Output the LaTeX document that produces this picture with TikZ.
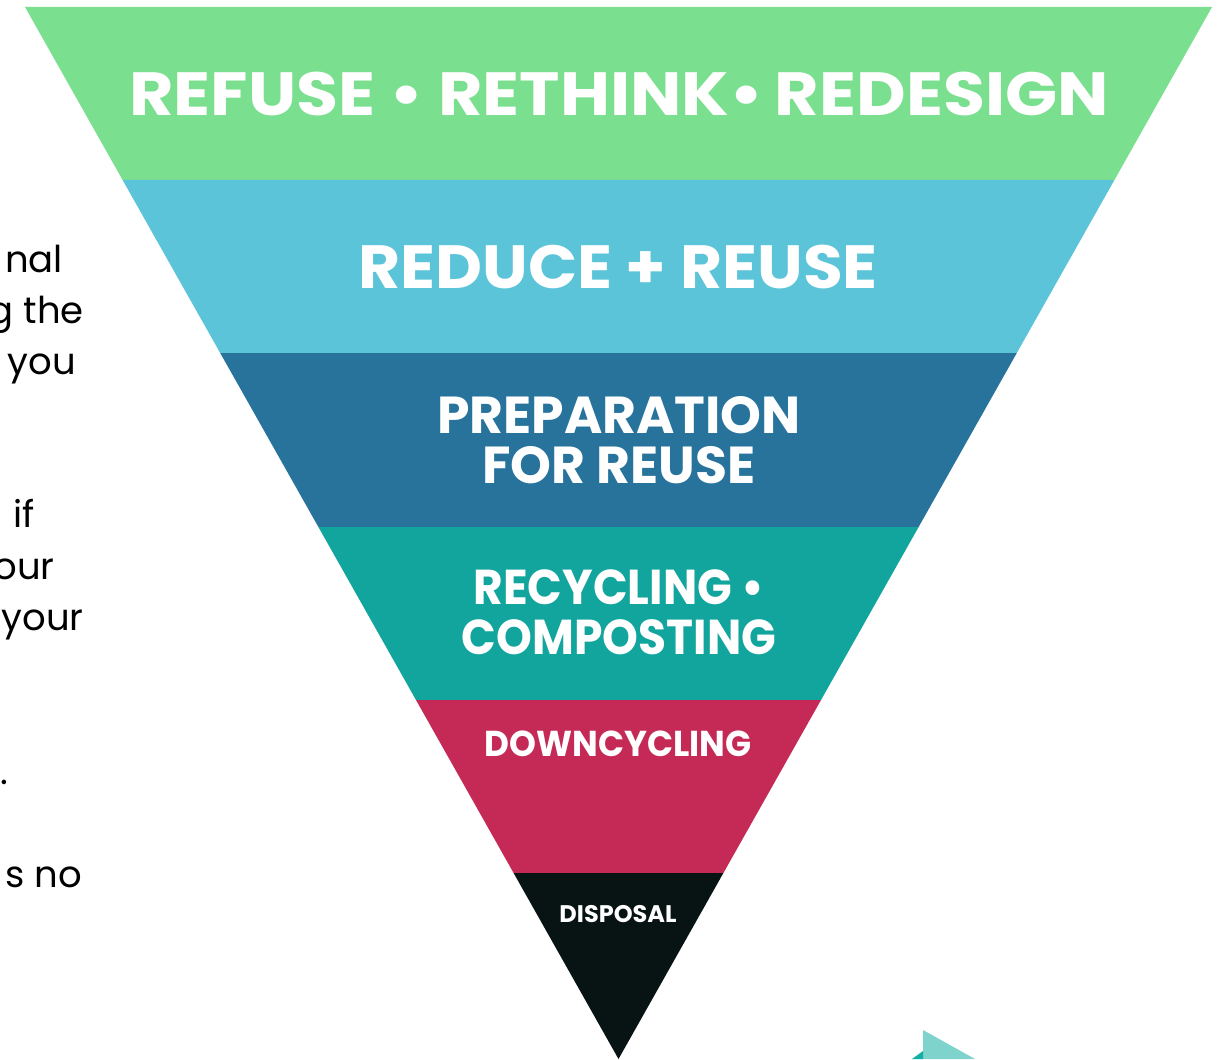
\documentclass[tikz,border=0pt]{standalone}
\usepackage{graphicx}
\usepackage{fontspec}
\setmainfont{Poppins}
\definecolor{refgreen}{HTML}{7ADF8E}
\definecolor{redblue}{HTML}{5BC4D8}
\definecolor{prepblue}{HTML}{27739C}
\definecolor{recteal}{HTML}{11A59D}
\definecolor{downred}{HTML}{C42A55}
\definecolor{dispblack}{HTML}{081414}
\definecolor{arrowlight}{HTML}{7ED3CC}
\definecolor{arrowdark}{HTML}{12AFA6}
\tikzset{
  tier/.style={text=white, font=\bfseries, align=center, inner sep=0pt},
  sidetext/.style={anchor=base east, inner sep=0pt, font=\fontsize{37}{44}\selectfont}
}
\begin{document}
\begin{tikzpicture}[x=1pt, y=-1pt]
    \useasboundingbox[fill=white] (0,0) rectangle (1222,1059);

    % Cut-off text on the left
    \node[sidetext] (t1) at (63,272) {nal};
    \node[sidetext] (t2) at (84,323) {g the};
    \node[sidetext] (t3) at (76,374) {you};
    \node[sidetext] (t4) at (35,527) {if};
    \node[sidetext] (t5) at (55,579) {our};
    \node[sidetext] (t6) at (84,630) {your};
    \node[sidetext] (t7) at (8,784) {.};
    \node[sidetext] (t8) at (82,887) {s no};

    % Edges of the bands
    \coordinate (L0) at (25,7);    \coordinate (R0) at (1212,7);
    \coordinate (L1) at (122.6,180); \coordinate (R1) at (1114.4,180);
    \coordinate (L2) at (220.2,353); \coordinate (R2) at (1016.8,353);
    \coordinate (L3) at (318.4,527); \coordinate (R3) at (918.6,527);
    \coordinate (L4) at (416,700);   \coordinate (R4) at (821,700);
    \coordinate (L5) at (513.6,873); \coordinate (R5) at (723.4,873);
    \coordinate (apex) at (618.5,1059);

    % Bands
    \fill[refgreen] (L0) -- (R0) -- (R1) -- (L1) -- cycle;
    \fill[redblue] (L1) -- (R1) -- (R2) -- (L2) -- cycle;
    \fill[prepblue] (L2) -- (R2) -- (R3) -- (L3) -- cycle;
    \fill[recteal] (L3) -- (R3) -- (R4) -- (L4) -- cycle;
    \fill[downred] (L4) -- (R4) -- (R5) -- (L5) -- cycle;
    \fill[dispblack] (L5) -- (R5) -- (apex) -- cycle;

    % Labels
    \node[tier, font=\bfseries\fontsize{61}{70}\selectfont] (refuse) at (619,94) {\scalebox{1.12}[1]{REFUSE • RETHINK•\,REDESIGN}};
    \node[tier, font=\bfseries\fontsize{61}{70}\selectfont] (reduce) at (618,267) {\scalebox{1.06}[1]{REDUCE + REUSE}};
    \node[tier, font=\bfseries\fontsize{52}{50}\selectfont] (prep) at (619,440) {PREPARATION\\FOR REUSE};
    \node[tier, font=\bfseries\fontsize{49}{50}\selectfont] (recyc) at (619,612) {\scalebox{0.93}[1]{RECYCLING •}\\\scalebox{0.93}[1]{COMPOSTING}};
    \node[tier, font=\bfseries\fontsize{36}{44}\selectfont] (down) at (618,744) {\scalebox{0.95}[1]{DOWNCYCLING}};
    \node[tier, font=\bfseries\fontsize{24}{30}\selectfont] (disp) at (618,914) {DISPOSAL};

    % Arrow corner at the bottom
    \fill[arrowlight] (923,1030) -- (975,1059) -- (923,1059) -- cycle;
    \fill[arrowdark] (912,1059) -- (923,1051) -- (923,1059) -- cycle;
\end{tikzpicture}
\end{document}
